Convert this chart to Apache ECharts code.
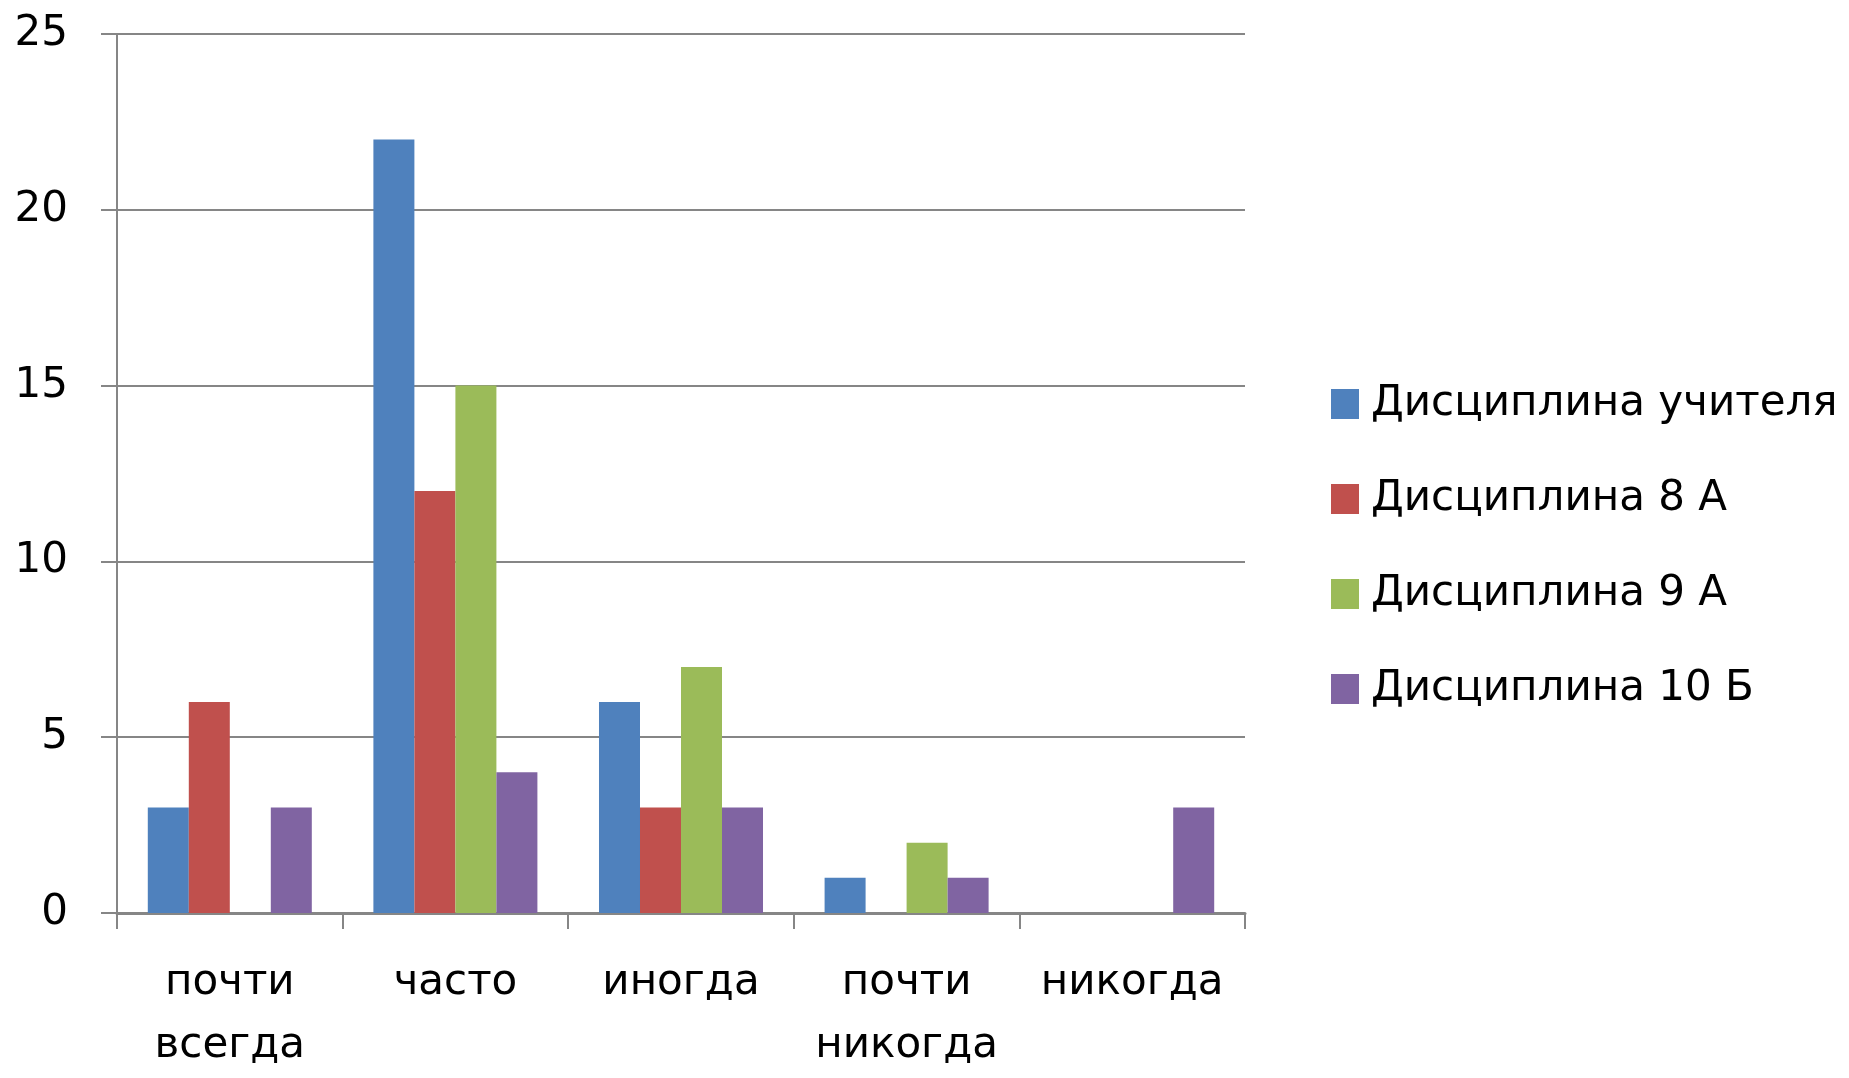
<!DOCTYPE html>
<html>
<head>
<meta charset="utf-8">
<script src="https://cdn.jsdelivr.net/npm/echarts@6/dist/echarts.min.js"></script>
<style>
html,body{margin:0;padding:0;background:#fff;}
#chart{width:1849px;height:1078px;}
</style>
</head>
<body>
<div id="chart"></div>
<script>
const categories = ['почти\nвсегда', 'часто', 'иногда', 'почти\nникогда', 'никогда'];
const seriesNames = ['Дисциплина учителя', 'Дисциплина 8 А', 'Дисциплина 9 А', 'Дисциплина 10 Б'];
const teacher = [3, 22, 6, 1, 0];
const class8A = [6, 12, 3, 0, 0];
const class9A = [0, 15, 7, 2, 0];
const class10B = [3, 4, 3, 1, 3];
const colors = ['#4F81BD', '#C0504D', '#9BBB59', '#8064A2'];
const yTicks = { min: 0, max: 25, interval: 5 };

const values = [teacher, class8A, class9A, class10B];
const font = 'DejaVu Sans';
const fs = 42;
const axisGray = '#868686';

const chart = echarts.init(document.getElementById('chart'), null, { renderer: 'canvas' });
chart.setOption({
  animation: false,
  backgroundColor: '#ffffff',
  textStyle: { fontFamily: font },
  grid: { left: 117, right: 604, top: 34, bottom: 155, containLabel: false },
  legend: {
    orient: 'vertical',
    left: 1331,
    top: 382,
    padding: 0,
    itemWidth: 28,
    itemHeight: 30,
    itemGap: 51,
    icon: 'rect',
    textStyle: { fontFamily: font, fontSize: fs, color: '#000', lineHeight: 44, padding: [0, 0, 0, 7] },
    data: seriesNames
  },
  xAxis: {
    type: 'category',
    data: categories,
    axisLine: { lineStyle: { color: axisGray, width: 3 } },
    axisTick: { show: true, length: 16, lineStyle: { color: axisGray, width: 2 } },
    axisLabel: { color: '#000', fontFamily: font, fontSize: fs, lineHeight: 63, margin: 39, interval: 0 },
    splitLine: { show: false }
  },
  yAxis: {
    type: 'value',
    min: yTicks.min,
    max: yTicks.max,
    interval: yTicks.interval,
    axisLine: { show: true, lineStyle: { color: axisGray, width: 2 } },
    axisTick: { show: true, length: 16, lineStyle: { color: axisGray, width: 2 } },
    axisLabel: { color: '#000', fontFamily: font, fontSize: fs, margin: 49 },
    splitLine: { show: true, lineStyle: { color: axisGray, width: 2 } }
  },
  series: seriesNames.map((name, i) => ({
    name: name,
    type: 'bar',
    data: values[i],
    itemStyle: { color: colors[i] },
    barGap: '0%',
    barCategoryGap: '27.3%'
  }))
});
</script>
</body>
</html>
